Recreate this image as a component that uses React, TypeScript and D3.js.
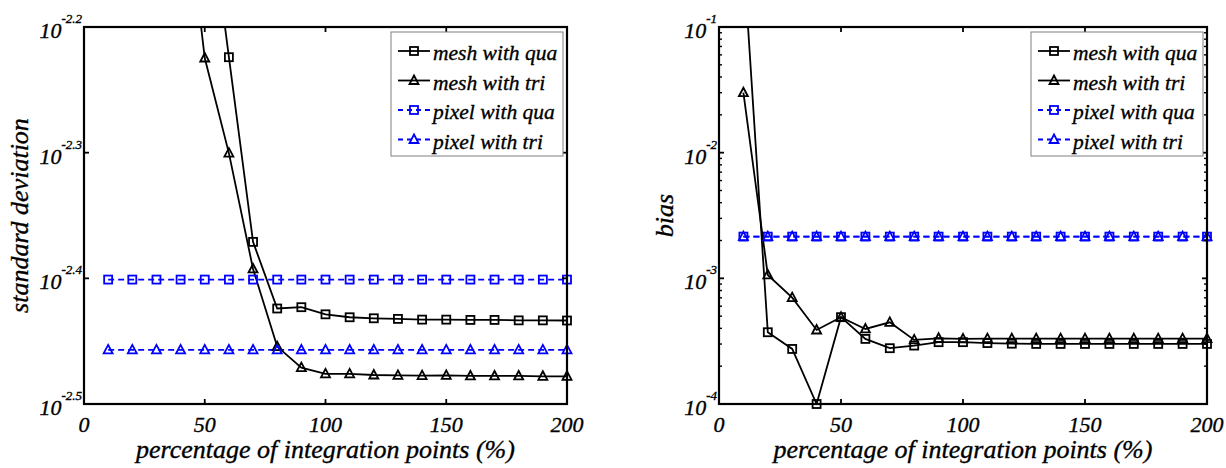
import React from "react";
import * as d3 from "d3";

// ---------- data ----------
const xPixel = [10, 20, 30, 40, 50, 60, 70, 80, 90, 100, 110, 120, 130, 140, 150, 160, 170, 180, 190, 200];

// Left panel: standard deviation
const sdMeshQuaX = [50, 60, 70, 80, 90, 100, 110, 120, 130, 140, 150, 160, 170, 180, 190, 200];
const sdMeshQua = [0.008414, 0.00597, 0.004256, 0.003767, 0.003776, 0.003727, 0.003707, 0.0037, 0.003696, 0.003691, 0.003691, 0.003689, 0.003689, 0.003686, 0.003686, 0.003685];
const sdMeshTriX = [40, 50, 60, 70, 80, 90, 100, 110, 120, 130, 140, 150, 160, 170, 180, 190, 200];
const sdMeshTri = [0.00871, 0.005961, 0.005008, 0.00405, 0.003513, 0.00338, 0.003342, 0.003342, 0.003335, 0.003333, 0.003331, 0.003333, 0.003329, 0.003329, 0.003329, 0.003327, 0.003327];
const sdPixelQua = [0.003972, 0.003972, 0.003972, 0.003972, 0.003972, 0.003972, 0.003972, 0.003972, 0.003972, 0.003972, 0.003972, 0.003972, 0.003972, 0.003972, 0.003972, 0.003972, 0.003972, 0.003972, 0.003972, 0.003972];
const sdPixelTri = [0.003492, 0.003492, 0.003492, 0.003492, 0.003492, 0.003492, 0.003492, 0.003492, 0.003492, 0.003492, 0.003492, 0.003492, 0.003492, 0.003492, 0.003492, 0.003492, 0.003492, 0.003492, 0.003492, 0.003492];

// Right panel: bias
const biasMeshQua = [0.3715, 3.724e-4, 2.742e-4, 1.0e-4, 4.909e-4, 3.296e-4, 2.78e-4, 2.917e-4, 3.105e-4, 3.105e-4, 3.055e-4, 3.02e-4, 3.006e-4, 3.006e-4, 3.006e-4, 3.006e-4, 3.006e-4, 3.006e-4, 3.006e-4, 3.006e-4];
const biasMeshTri = [0.03, 1.064e-3, 7.015e-4, 3.882e-4, 4.898e-4, 3.954e-4, 4.467e-4, 3.236e-4, 3.334e-4, 3.296e-4, 3.311e-4, 3.311e-4, 3.311e-4, 3.311e-4, 3.311e-4, 3.311e-4, 3.311e-4, 3.311e-4, 3.311e-4, 3.311e-4];
const biasPixelQua = [2.148e-3, 2.148e-3, 2.148e-3, 2.148e-3, 2.148e-3, 2.148e-3, 2.148e-3, 2.148e-3, 2.148e-3, 2.148e-3, 2.148e-3, 2.148e-3, 2.148e-3, 2.148e-3, 2.148e-3, 2.148e-3, 2.148e-3, 2.148e-3, 2.148e-3, 2.148e-3];
const biasPixelTri = [2.148e-3, 2.148e-3, 2.148e-3, 2.148e-3, 2.148e-3, 2.148e-3, 2.148e-3, 2.148e-3, 2.148e-3, 2.148e-3, 2.148e-3, 2.148e-3, 2.148e-3, 2.148e-3, 2.148e-3, 2.148e-3, 2.148e-3, 2.148e-3, 2.148e-3, 2.148e-3];

const xTicks = [0, 50, 100, 150, 200];
const sdTickExps = ["-2.2", "-2.3", "-2.4", "-2.5"];
const biasTickExps = ["-1", "-2", "-3", "-4"];
const legendLabels = ["mesh with qua", "mesh with tri", "pixel with qua", "pixel with tri"];
const xLabel = "percentage of integration points (%)";

// ---------- drawing ----------
const FONT = "'Liberation Serif', 'Times New Roman', serif";
const W = 1226;
const H = 468;
const BLUE = "#0000ff";
const TXT = { fontFamily: FONT, fontStyle: "italic" as const, fill: "#000", stroke: "#000", strokeWidth: 0.35 };

type Series = { xs: number[]; ys: number[]; color: string; dashed: boolean; marker: "sq" | "tri" };

function Marker({ type, x, y, color }: { type: "sq" | "tri"; x: number; y: number; color: string }) {
  if (type === "sq") {
    return <rect x={x - 4} y={y - 4} width={8} height={8} fill="none" stroke={color} strokeWidth={1.8} />;
  }
  const p = `M${x},${y - 5} L${x + 4.5},${y + 3.5} L${x - 4.5},${y + 3.5} Z`;
  return <path d={p} fill="none" stroke={color} strokeWidth={1.8} />;
}

function Panel({
  id,
  left,
  right,
  top,
  bottom,
  domain,
  tickExps,
  minor,
  series,
  yLabel,
  yLabelX,
}: {
  id: string;
  left: number;
  right: number;
  top: number;
  bottom: number;
  domain: [number, number];
  tickExps: string[];
  minor: boolean;
  series: Series[];
  yLabel: string;
  yLabelX: number;
}) {
  const x = d3.scaleLinear().domain([0, 200]).range([left, right]);
  const y = d3.scaleLog().domain(domain).range([bottom, top]);
  const majors = tickExps.map((e) => Math.pow(10, parseFloat(e)));
  const minors: number[] = [];
  if (minor) {
    const lo = Math.log10(domain[0]);
    const hi = Math.log10(domain[1]);
    for (let d = Math.floor(lo); d < Math.ceil(hi); d++) {
      for (let k = 2; k <= 9; k++) minors.push(k * Math.pow(10, d));
    }
  }
  const [ymin, ymax] = domain;
  const lineGen = d3
    .line<[number, number]>()
    .x((d) => x(d[0]))
    .y((d) => y(d[1]));

  const legX = right - 4 - 172;
  const legY = top + 5;

  return (
    <g>
      <defs>
        <clipPath id={id}>
          <rect x={left} y={top} width={right - left} height={bottom - top} />
        </clipPath>
      </defs>
      <g clipPath={`url(#${id})`}>
        {series.map((s, i) => (
          <path
            key={i}
            d={lineGen(s.xs.map((v, j) => [v, s.ys[j]] as [number, number])) || ""}
            fill="none"
            stroke={s.color}
            strokeWidth={1.8}
            strokeDasharray={s.dashed ? "6,4" : undefined}
          />
        ))}
      </g>
      {series.map((s, i) => (
        <g key={i}>
          {s.xs.map((v, j) =>
            s.ys[j] <= ymax * 1.0001 && s.ys[j] >= ymin * 0.999 ? (
              <Marker key={j} type={s.marker} x={x(v)} y={y(s.ys[j])} color={s.color} />
            ) : null
          )}
        </g>
      ))}
      <rect x={left} y={top} width={right - left} height={bottom - top} fill="none" stroke="#000" strokeWidth={2.2} />
      {xTicks.map((t) => (
        <g key={t}>
          <line x1={x(t)} x2={x(t)} y1={bottom} y2={bottom - 5} stroke="#000" strokeWidth={1.8} />
          <line x1={x(t)} x2={x(t)} y1={top} y2={top + 5} stroke="#000" strokeWidth={1.8} />
          <text x={x(t)} y={bottom + 28} textAnchor="middle" fontSize={22} {...TXT}>
            {t}
          </text>
        </g>
      ))}
      {majors.map((v, i) => (
        <g key={i}>
          <line x1={left} x2={left + 5} y1={y(v)} y2={y(v)} stroke="#000" strokeWidth={1.8} />
          <line x1={right} x2={right - 5} y1={y(v)} y2={y(v)} stroke="#000" strokeWidth={1.8} />
          <text x={left - 2} y={y(v) + 11} textAnchor="end" fontSize={22} {...TXT}>
            <tspan>10</tspan>
            <tspan dy={-15} fontSize={13}>
              {tickExps[i]}
            </tspan>
          </text>
        </g>
      ))}
      {minors.map((v, i) => (
        <g key={"m" + i}>
          <line x1={left} x2={left + 3} y1={y(v)} y2={y(v)} stroke="#000" strokeWidth={1.4} />
          <line x1={right} x2={right - 3} y1={y(v)} y2={y(v)} stroke="#000" strokeWidth={1.4} />
        </g>
      ))}
      <text x={(left + right) / 2} y={458} textAnchor="middle" fontSize={26} {...TXT}>
        {xLabel}
      </text>
      <text
        transform={`translate(${yLabelX},${(top + bottom) / 2}) rotate(-90)`}
        textAnchor="middle"
        fontSize={26}
        {...TXT}
      >
        {yLabel}
      </text>
      <rect x={legX} y={legY} width={172} height={124} fill="#fff" stroke="#7f7f7f" strokeWidth={1} />
      {series.map((s, i) => {
        const by = legY + 28 + i * 29.5;
        const my = by - 9;
        return (
          <g key={"l" + i}>
            <line
              x1={legX + 7}
              x2={legX + 39}
              y1={my}
              y2={my}
              stroke={s.color}
              strokeWidth={1.8}
              strokeDasharray={s.dashed ? "5,4" : undefined}
            />
            <Marker type={s.marker} x={legX + 23} y={my} color={s.color} />
            <text x={legX + 42} y={by} fontSize={21.5} {...TXT}>
              {legendLabels[i]}
            </text>
          </g>
        );
      })}
    </g>
  );
}

export default function App() {
  const leftSeries: Series[] = [
    { xs: sdMeshQuaX, ys: sdMeshQua, color: "#000", dashed: false, marker: "sq" },
    { xs: sdMeshTriX, ys: sdMeshTri, color: "#000", dashed: false, marker: "tri" },
    { xs: xPixel, ys: sdPixelQua, color: BLUE, dashed: true, marker: "sq" },
    { xs: xPixel, ys: sdPixelTri, color: BLUE, dashed: true, marker: "tri" },
  ];
  const rightSeries: Series[] = [
    { xs: xPixel, ys: biasMeshQua, color: "#000", dashed: false, marker: "sq" },
    { xs: xPixel, ys: biasMeshTri, color: "#000", dashed: false, marker: "tri" },
    { xs: xPixel, ys: biasPixelQua, color: BLUE, dashed: true, marker: "sq" },
    { xs: xPixel, ys: biasPixelTri, color: BLUE, dashed: true, marker: "tri" },
  ];
  return (
    <svg
      width={W}
      height={H}
      viewBox={`0 0 ${W} ${H}`}
      style={{ position: "absolute", left: 0, top: 0, background: "#fff" }}
    >
      <rect x={0} y={0} width={W} height={H} fill="#fff" />
      <Panel
        id="clipL"
        left={84}
        right={567}
        top={27}
        bottom={404}
        domain={[Math.pow(10, -2.5), Math.pow(10, -2.2)]}
        tickExps={sdTickExps}
        minor={false}
        series={leftSeries}
        yLabel="standard deviation"
        yLabelX={28}
      />
      <Panel
        id="clipR"
        left={719}
        right={1207}
        top={27}
        bottom={404}
        domain={[1e-4, 1e-1]}
        tickExps={biasTickExps}
        minor={true}
        series={rightSeries}
        yLabel="bias"
        yLabelX={673}
      />
    </svg>
  );
}
